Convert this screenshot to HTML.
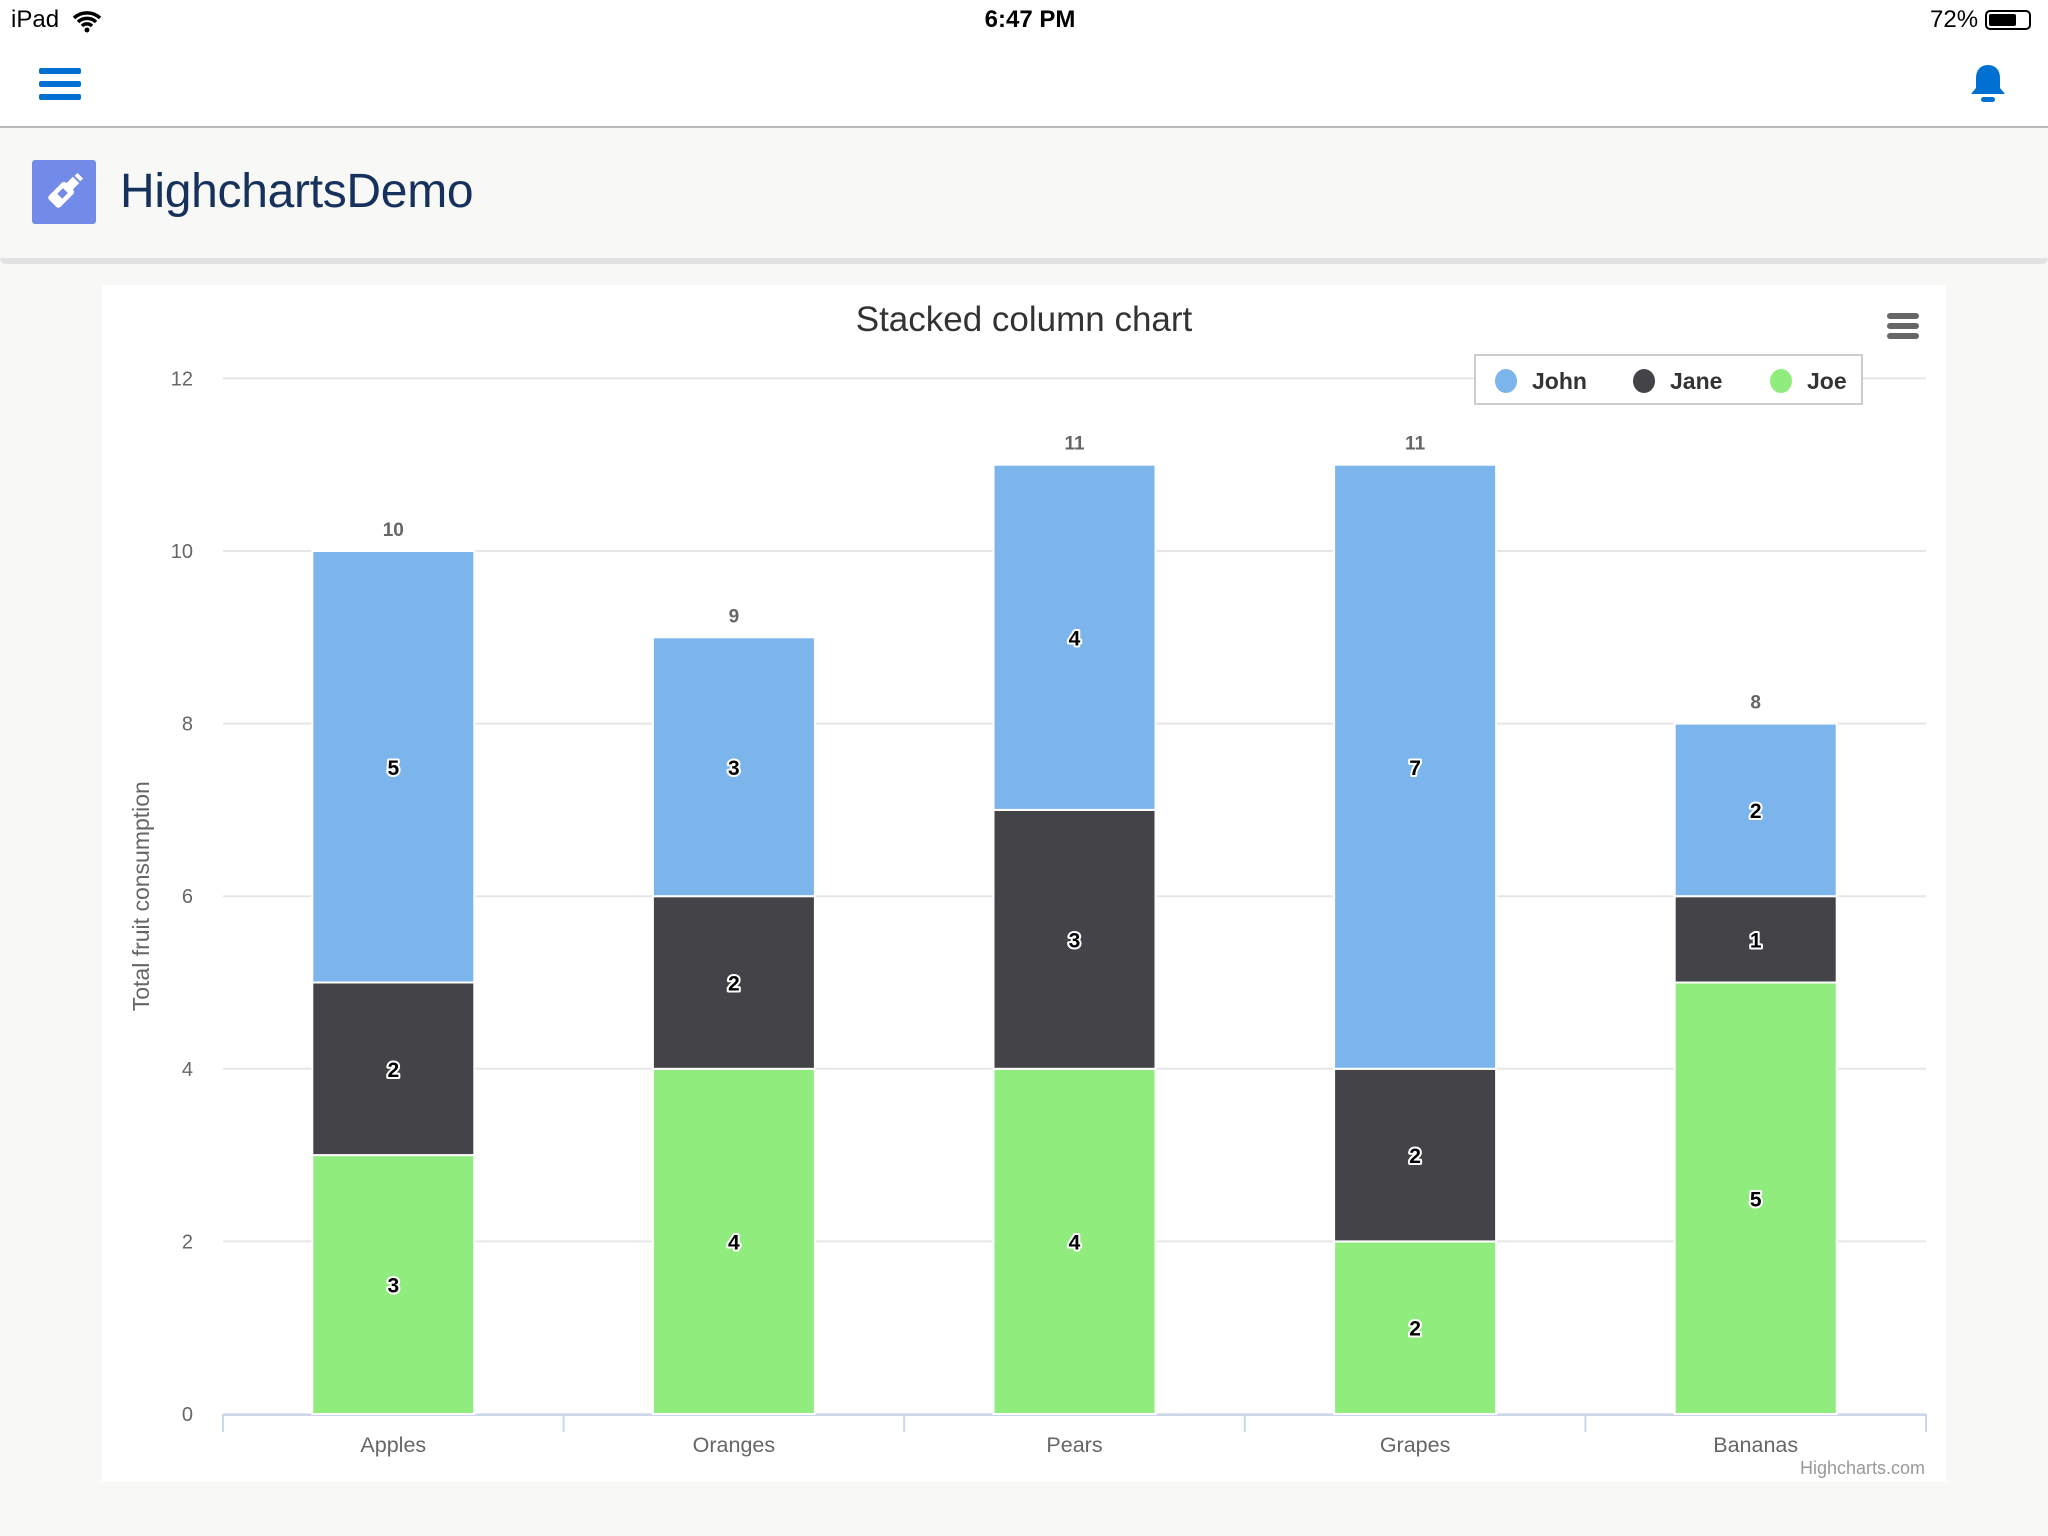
<!DOCTYPE html>
<html><head><meta charset="utf-8"><style>
body{margin:0;width:2048px;height:1536px;background:#f8f8f7;font-family:"Liberation Sans",sans-serif;overflow:hidden;position:relative}
.abs{position:absolute}
</style></head><body>
<div class="abs" style="left:0;top:0;width:2048px;height:128px;background:#fff;border-bottom:2px solid #bbb;box-sizing:border-box"></div>
<div class="abs" style="left:11px;top:6px;font-size:24px;color:#000">iPad</div>
<svg class="abs" style="left:72px;top:9px" width="30" height="24" viewBox="0 0 30 24"><path d="M2 9a19 19 0 0 1 26 0M6 13a13 13 0 0 1 18 0M10 17a7 7 0 0 1 10 0" stroke="#000" stroke-width="3.5" fill="none"/><circle cx="15" cy="21" r="2.5"/></svg>
<div class="abs" style="left:0;width:2060px;text-align:center;top:6px;font-size:24px;font-weight:bold">6:47 PM</div>
<div class="abs" style="left:1930px;top:6px;font-size:24px">72%</div>
<div class="abs" style="left:1985px;top:10px;width:46px;height:20px;border:2px solid #000;border-radius:5px;box-sizing:border-box;padding:2px"><div style="width:70%;height:100%;background:#000;border-radius:2px"></div></div>
<div class="abs" style="left:39px;top:68px;width:42px;height:32px">
<div style="height:6px;background:#0070d2;border-radius:2px;margin-bottom:7px"></div><div style="height:6px;background:#0070d2;border-radius:2px;margin-bottom:7px"></div><div style="height:6px;background:#0070d2;border-radius:2px"></div></div>
<svg class="abs" style="left:1966px;top:62px" width="44" height="44" viewBox="0 0 44 44"><path d="M22 3c-8 0-12 6-12 13v10l-5 6h34l-5-6V16c0-7-4-13-12-13z" fill="#0070d2"/><rect x="15" y="35" width="14" height="5" rx="2.5" fill="#0070d2"/></svg>
<div class="abs" style="left:0;top:130px;width:2048px;height:128px;background:#f8f8f7;border-bottom:6px solid #e2e2e2;border-radius:0 0 6px 6px"></div>
<div class="abs" style="left:32px;top:160px;width:64px;height:64px;background:#728ae8;border-radius:3px"><svg width="64" height="64" viewBox="0 0 64 64"><g transform="rotate(45 32 32)"><rect x="24" y="24" width="16" height="24" rx="3" fill="#fff"/><rect x="27.5" y="15" width="9" height="10" fill="#fff"/><rect x="28" y="9" width="8" height="4" fill="#fff"/><rect x="28.5" y="30" width="7" height="8" fill="#728ae8"/></g></svg></div>
<div class="abs" style="left:120px;top:164px;font-size:48px;color:#16325c;font-weight:300;letter-spacing:-0.3px">HighchartsDemo</div>

<svg class="abs" id="chart" style="left:102px;top:285px" width="1844" height="1197"></svg>
<script>
const categories=['Apples','Oranges','Pears','Grapes','Bananas'];
const seriesNames=['John','Jane','Joe'];
const john=[5,3,4,7,2];
const jane=[2,2,3,2,1];
const joe=[3,4,4,2,5];
const yTicks=[0,2,4,6,8,10,12];
const colors=['#7cb5ec','#434348','#90ed7d'];
const svg=document.getElementById('chart');
const NS='http://www.w3.org/2000/svg';
const OX=102,OY=285;
const plotL=223-OX,plotR=1926-OX,y0=1414-OY,unit=86.3;
const yS=v=>y0-v*unit;
const cw=(plotR-plotL)/categories.length;
const xC=i=>plotL+cw*(i+0.5);
function mk(tag,attrs,parent){const e=document.createElementNS(NS,tag);for(const k in attrs)e.setAttribute(k,attrs[k]);(parent||svg).appendChild(e);return e;}
mk('rect',{x:0,y:0,width:1844,height:1197,fill:'#fff'});
const title=mk('text',{x:922,y:46,'text-anchor':'middle','font-size':35,fill:'#333'});title.textContent='Stacked column chart';


yTicks.forEach(t=>{
 const g=mk('line',{x1:plotL,x2:plotR,y1:yS(t),y2:yS(t),stroke:'#e6e6e6','stroke-width':2});
 
 
 const l=mk('text',{x:91,y:yS(t)+7,'text-anchor':'end','font-size':20,fill:'#666'});l.textContent=t;
 
 
});
const yt=mk('text',{transform:`translate(47,${(yS(0)+yS(12))/2}) rotate(-90)`,'text-anchor':'middle','font-size':23,fill:'#666'});yt.textContent='Total fruit consumption';


mk('line',{x1:plotL,x2:plotR,y1:y0+1,y2:y0+1,stroke:'#ccd6eb','stroke-width':2});
for(let i=0;i<=categories.length;i++){mk('line',{x1:plotL+cw*i,x2:plotL+cw*i,y1:y0,y2:y0+18,stroke:'#ccd6eb','stroke-width':2});}
const data=[john,jane,joe];
const bw=162;
categories.forEach((c,i)=>{
 const l=mk('text',{x:xC(i),y:y0+38,'text-anchor':'middle','font-size':21.5,fill:'#666'});l.textContent=c;
 
 
 let base=0;
 for(let s=2;s>=0;s--){
  const v=data[s][i];
  const r=mk('rect',{x:xC(i)-bw/2,y:yS(base+v),width:bw,height:v*unit,fill:colors[s],stroke:'#fff','stroke-width':2});
  
  
  const t=mk('text',{x:xC(i),y:yS(base+v/2)+8,'text-anchor':'middle','font-size':21,'font-weight':'bold',fill:'#000',stroke:'#fff','stroke-width':4,'paint-order':'stroke','stroke-linejoin':'round'});t.textContent=v;
  
  
  base+=v;
 }
 const tt=mk('text',{x:xC(i),y:yS(base)-15,'text-anchor':'middle','font-size':19,'font-weight':'bold',fill:'#666'});tt.textContent=base;
 
 
});
const lg=mk('g',{});


mk('rect',{x:1475-OX,y:355-OY,width:387,height:49,fill:'#fff',stroke:'#ccc','stroke-width':2},lg);
const lx=[1506,1644,1781];
seriesNames.forEach((n,s)=>{
 const it=mk('g',{},lg);
 
 
 mk('ellipse',{cx:lx[s]-OX,cy:381-OY,rx:11,ry:12,fill:colors[s]},it);
 const t=mk('text',{x:lx[s]-OX+26,y:389-OY,'font-size':23,'font-weight':'bold',fill:'#333'},it);t.textContent=n;
});
const mb=mk('g',{});


[316,326,336].forEach(y=>mk('line',{x1:1890-OX,x2:1916-OX,y1:y-OY,y2:y-OY,stroke:'#666','stroke-width':6,'stroke-linecap':'round'},mb));
const cr=mk('text',{x:1925-OX,y:1474-OY,'text-anchor':'end','font-size':18,fill:'#999'});cr.textContent='Highcharts.com';


</script>
</body></html>
